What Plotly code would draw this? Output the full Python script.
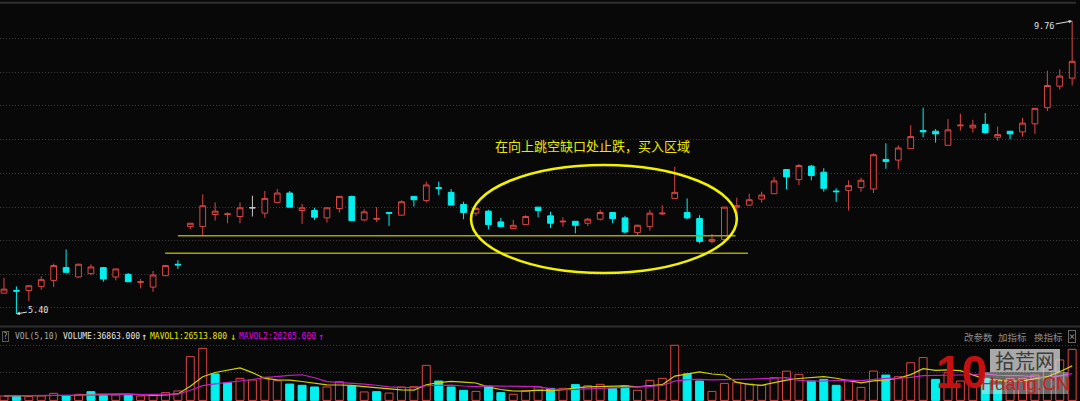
import plotly.graph_objects as go
import pandas as pd

W, H = 1080, 401

# ---- data ----
opens = [5.71, 5.75, 5.75, 5.81, 5.90, 6.09, 5.95, 6.00, 6.09, 5.95,
         5.99, 5.87, 5.80, 5.97, 6.14, 6.70, 6.70, 6.88, 6.88, 6.85,
         6.98, 6.90, 7.06, 7.20, 6.94, 6.94, 6.83, 6.97, 7.15, 6.80,
         6.81, 6.91, 6.87, 7.15, 7.09, 7.28, 7.21, 7.03, 6.90, 6.93,
         6.77, 6.67, 6.73, 6.99, 6.86, 6.77, 6.78, 6.75, 6.81, 6.91,
         6.83, 6.61, 6.70, 6.89, 7.12, 6.91, 6.82, 6.48, 6.51, 6.99,
         7.02, 7.11, 7.19, 7.55, 7.40, 7.60, 7.51, 7.23, 7.24, 7.28,
         7.26, 7.70, 7.69, 7.86, 8.13, 8.12, 7.91, 8.20, 8.17, 8.22,
         8.03, 8.12, 8.11, 8.23, 8.47, 8.79, 8.91]
highs = [5.94, 5.81, 5.83, 5.96, 6.15, 6.36, 6.15, 6.14, 6.10, 6.07,
         6.01, 5.92, 6.04, 6.13, 6.20, 6.75, 7.18, 7.06, 6.91, 7.06,
         7.16, 7.23, 7.26, 7.23, 7.04, 6.98, 6.99, 7.15, 7.16, 6.96,
         6.99, 6.91, 7.09, 7.15, 7.37, 7.37, 7.26, 7.07, 6.99, 6.95,
         6.83, 6.80, 6.87, 6.99, 6.92, 6.84, 6.78, 6.83, 6.95, 6.91,
         6.86, 6.73, 6.95, 7.02, 7.59, 7.12, 6.87, 6.59, 6.99, 7.13,
         7.19, 7.22, 7.44, 7.55, 7.63, 7.62, 7.57, 7.27, 7.39, 7.43,
         7.79, 7.94, 7.91, 8.21, 8.47, 8.15, 8.30, 8.38, 8.29, 8.39,
         8.19, 8.12, 8.32, 8.46, 9.02, 9.04, 9.76]
lows = [5.71, 5.40, 5.59, 5.76, 5.80, 6.01, 5.94, 5.98, 5.88, 5.90,
        5.88, 5.78, 5.73, 5.97, 6.07, 6.66, 6.57, 6.79, 6.75, 6.75,
        6.85, 6.83, 7.06, 6.99, 6.74, 6.80, 6.76, 6.91, 6.79, 6.78,
        6.77, 6.71, 6.87, 7.00, 7.06, 7.17, 7.02, 6.81, 6.86, 6.66,
        6.69, 6.66, 6.73, 6.84, 6.68, 6.70, 6.60, 6.71, 6.79, 6.75,
        6.60, 6.56, 6.64, 6.87, 7.12, 6.81, 6.45, 6.45, 6.51, 6.90,
        7.01, 7.06, 7.19, 7.26, 7.32, 7.39, 7.22, 7.07, 6.94, 7.22,
        7.20, 7.56, 7.56, 7.86, 8.03, 7.95, 7.91, 8.13, 8.10, 8.08,
        7.98, 8.00, 8.04, 8.08, 8.42, 8.74, 8.80]
closes = [5.77, 5.74, 5.82, 5.91, 6.12, 6.02, 6.14, 6.10, 5.92, 6.07,
          5.88, 5.88, 5.98, 6.12, 6.13, 6.75, 7.01, 6.93, 6.89, 6.98,
          6.98, 7.12, 7.20, 6.99, 6.98, 6.84, 6.98, 7.15, 6.79, 6.92,
          6.82, 6.90, 7.07, 7.10, 7.32, 7.27, 7.02, 6.91, 6.97, 6.73,
          6.70, 6.72, 6.85, 6.94, 6.75, 6.78, 6.72, 6.81, 6.91, 6.82,
          6.62, 6.72, 6.90, 6.90, 7.21, 6.83, 6.48, 6.51, 6.99, 7.01,
          7.10, 7.17, 7.38, 7.44, 7.61, 7.46, 7.27, 7.22, 7.31, 7.39,
          7.77, 7.67, 7.87, 8.04, 8.11, 8.08, 8.14, 8.21, 8.21, 8.10,
          8.07, 8.08, 8.24, 8.46, 8.80, 8.94, 9.16]
volumes = [3200, 3400, 2700, 3200, 5100, 3200, 4400, 6300, 3900, 3900,
           3900, 3200, 3700, 5600, 6800, 31600, 37600, 19100, 12800, 15900,
           14700, 16700, 14200, 11800, 10900, 9700, 9700, 13500, 10400, 6100,
           6300, 5300, 9700, 9900, 25300, 14000, 9700, 7300, 6500, 10200,
           5600, 4400, 7000, 9700, 8700, 8700, 11400, 10600, 11600, 8700,
           10400, 7300, 14500, 15900, 39800, 19100, 14000, 6500, 12300, 13000,
           11800, 10900, 16400, 21100, 18800, 14000, 15200, 10900, 14000, 9400,
           21200, 18300, 17100, 27200, 30900, 15200, 20000, 14000, 12000, 15900,
           11100, 15900, 15900, 18300, 24400, 29200, 36863]

low_label = "5.40"
high_label = "9.76"
note_text = "在向上跳空缺口处止跌，买入区域"
gap_lines = [6.565, 6.303]
price_grid = [5.49, 5.99, 6.49, 6.99, 7.49, 7.99, 8.50, 9.00, 9.50]
vol_grid = [20000, 40000]

BG = "#080808"
RED = "#DC4646"
CYAN = "#00F0F0"
GRAY = "#C8C8C8"
GRID = "#3c3c3c"

n = len(opens)
idx = list(range(n))

# split flat (open == close) from normal candles
norm = [i for i in idx if opens[i] != closes[i]]
flat = [i for i in idx if opens[i] == closes[i]]

def pick(arr, sel):
    return [arr[i] for i in sel]

fig = go.Figure()
fig.add_trace(go.Candlestick(
    x=norm, open=pick(opens, norm), high=pick(highs, norm),
    low=pick(lows, norm), close=pick(closes, norm),
    increasing=dict(line=dict(color=RED, width=1), fillcolor=BG),
    decreasing=dict(line=dict(color=CYAN, width=1), fillcolor=CYAN),
    whiskerwidth=0, showlegend=False, hoverinfo="skip", xaxis="x", yaxis="y"))
if flat:
    fig.add_trace(go.Candlestick(
        x=flat, open=pick(opens, flat), high=pick(highs, flat),
        low=pick(lows, flat), close=pick(closes, flat),
        increasing=dict(line=dict(color=GRAY, width=1), fillcolor=GRAY),
        decreasing=dict(line=dict(color=GRAY, width=1), fillcolor=GRAY),
        whiskerwidth=0, showlegend=False, hoverinfo="skip", xaxis="x", yaxis="y"))

# volume bars: colour by close vs previous close
vol_up = [True] + [closes[i] >= closes[i - 1] for i in range(1, n)]
fill_cols = [BG if u else CYAN for u in vol_up]
line_cols = [RED if u else CYAN for u in vol_up]
fig.add_trace(go.Bar(
    x=idx, y=volumes, width=0.64,
    marker=dict(color=fill_cols, line=dict(color=line_cols, width=1)),
    showlegend=False, hoverinfo="skip", xaxis="x", yaxis="y2"))

vs = pd.Series(volumes, dtype=float)
ma5 = vs.rolling(5, min_periods=1).mean()
ma10 = vs.rolling(10, min_periods=1).mean()
fig.add_trace(go.Scatter(x=idx, y=ma5, mode="lines",
                         line=dict(color="#D2D200", width=1.2),
                         showlegend=False, hoverinfo="skip", xaxis="x", yaxis="y2"))
fig.add_trace(go.Scatter(x=idx, y=ma10, mode="lines",
                         line=dict(color="#C41EC4", width=1.2),
                         showlegend=False, hoverinfo="skip", xaxis="x", yaxis="y2"))

# ---- layout ----
def px(x):
    return x / W

def py(y):
    return 1 - y / H

split = py(326)
fig.update_layout(
    width=W, height=H, margin=dict(l=0, r=0, t=0, b=0),
    paper_bgcolor=BG, plot_bgcolor=BG, showlegend=False,
    boxgap=0.34,
    xaxis=dict(range=[-0.322, 86.63], showgrid=False, zeroline=False,
               showticklabels=False, showline=False, ticks="",
               rangeslider=dict(visible=False), anchor="y2", fixedrange=True),
    yaxis=dict(domain=[split, py(3)], range=[5.221, 10.028],
               tickvals=price_grid, showticklabels=False, ticks="",
               gridcolor=GRID, griddash="1px,2px", gridwidth=1,
               zeroline=False, showline=False),
    yaxis2=dict(domain=[0, split], range=[-433, 53717],
                tickvals=vol_grid, showticklabels=False, ticks="",
                gridcolor=GRID, griddash="1px,2px", gridwidth=1,
                zeroline=False, showline=False),
)

shapes = []
# frame lines
shapes.append(dict(type="line", xref="paper", yref="paper", x0=0, x1=px(1076),
                   y0=py(2.7), y1=py(2.7), line=dict(color="#2e2e2e", width=2)))
shapes.append(dict(type="line", xref="paper", yref="paper", x0=0, x1=1,
                   y0=py(326.5), y1=py(326.5), line=dict(color="#2e2e2e", width=2)))
# gap support lines
shapes.append(dict(type="line", xref="x", yref="y", x0=14.0, x1=58.9,
                   y0=gap_lines[0], y1=gap_lines[0], line=dict(color="#A4A400", width=1.6)))
shapes.append(dict(type="line", xref="x", yref="y", x0=12.97, x1=59.9,
                   y0=gap_lines[1], y1=gap_lines[1], line=dict(color="#A4A400", width=1.6)))
# ellipse
shapes.append(dict(type="circle", xref="x", yref="y", x0=37.6, x1=59.0,
                   y0=6.01, y1=7.617, line=dict(color="#F2F200", width=2.6)))
# watermark backdrop
shapes.append(dict(type="rect", xref="paper", yref="paper", x0=px(990), x1=px(1060),
                   y0=py(372), y1=py(349), line=dict(width=0),
                   fillcolor="rgba(215,215,215,0.78)", layer="above"))
shapes.append(dict(type="rect", xref="paper", yref="paper", x0=px(982), x1=px(1068),
                   y0=py(394), y1=py(372), line=dict(width=0),
                   fillcolor="rgba(225,225,225,0.45)", layer="above"))
fig.update_layout(shapes=shapes)

MONO = "DejaVu Sans Mono"
CJK = "Noto Sans CJK SC"
ann = []

def txt(x, y, s, color, size=8, family=MONO, xanchor="left", **kw):
    d = dict(xref="paper", yref="paper", x=px(x), y=py(y), text=s, showarrow=False,
             xanchor=xanchor, yanchor="middle",
             font=dict(family=family, size=size, color=color))
    d.update(kw)
    ann.append(d)

# chart annotation text
txt(592, 145, note_text, "#EAEA00", size=13, family=CJK, xanchor="center")

# extreme labels
ann.append(dict(x=1, y=lows[1], xref="x", yref="y", text=low_label, showarrow=True,
                arrowhead=2, arrowsize=0.7, arrowwidth=1, arrowcolor="#E0E0E0",
                ax=22, ay=-4, font=dict(family=MONO, size=8.5, color="#E0E0E0")))
ann.append(dict(x=86, y=highs[86], xref="x", yref="y", text=high_label, showarrow=True,
                arrowhead=2, arrowsize=0.7, arrowwidth=1, arrowcolor="#E0E0E0",
                ax=-28, ay=5, font=dict(family=MONO, size=8.5, color="#E0E0E0")))

# volume header
hy = 336.5
txt(5.2, hy, "?", "#9A9A9A", size=8, xanchor="center",
    bordercolor="#5A5A5A", borderwidth=1, borderpad=0)
txt(13, hy, "VOL(5,10)", "#A8A8A8")
txt(61, hy, "VOLUME:36863.000", "#E6E6E6")
txt(139, hy, "↑", "#E6E6E6", size=10)
txt(148, hy, "MAVOL1:26513.800", "#E6E600")
txt(228, hy, "↓", "#E6E600", size=10)
txt(237, hy, "MAVOL2:26265.600", "#E600E6")
txt(316, hy, "↑", "#E600E6", size=10)

txt(962, hy, "改参数", "#8C8C8C", size=9.5, family=CJK)
txt(996, hy, "加指标", "#8C8C8C", size=9.5, family=CJK)
txt(1032, hy, "换指标", "#8C8C8C", size=9.5, family=CJK)
txt(1071.5, hy, "×", "#8C8C8C", size=10, family=MONO, xanchor="center",
    bordercolor="#6A6A6A", borderwidth=1, borderpad=0)

# watermark
ann.append(dict(xref="paper", yref="paper", x=px(961), y=py(372), text="<b>10</b>",
                showarrow=False, xanchor="center", yanchor="middle",
                font=dict(family="Liberation Sans", size=46, color="#C41010")))
txt(1025, 360.5, "拾荒网", "#3C3C3C", size=20, family=CJK, xanchor="center")
ann.append(dict(xref="paper", yref="paper", x=px(1025), y=py(383), text="Huang.CN",
                showarrow=False, xanchor="center", yanchor="middle",
                font=dict(family="Liberation Sans", size=19, color="#C81E1E")))

fig.update_layout(annotations=ann)
fig.write_html("out.html", config={"displayModeBar": False},
               post_script="document.body.style.margin='0px';document.body.style.overflow='hidden';")
